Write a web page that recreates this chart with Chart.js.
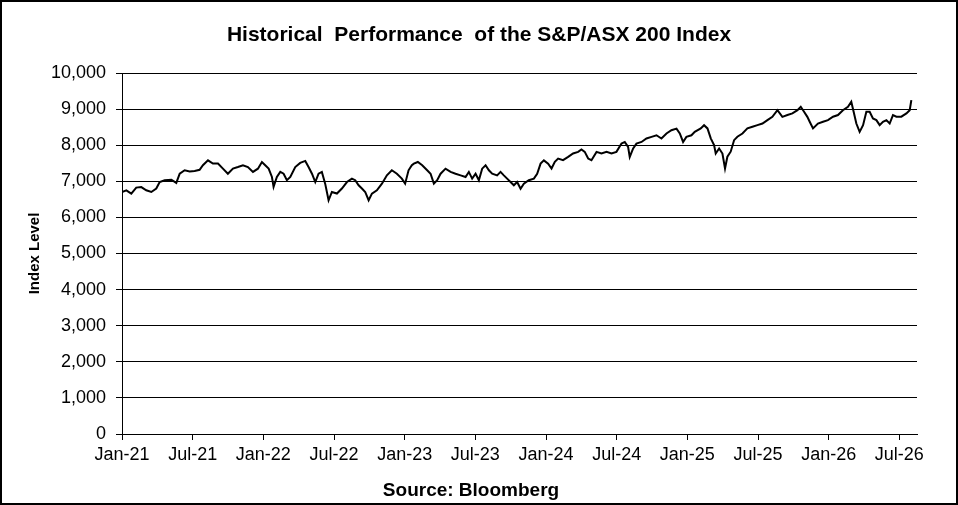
<!DOCTYPE html>
<html>
<head>
<meta charset="utf-8">
<title>S&amp;P/ASX 200 Index</title>
<script src="https://cdn.jsdelivr.net/npm/chart.js@4.4.1/dist/chart.umd.min.js"></script>
<style>
  html, body { margin: 0; padding: 0; background: #fff; }
  canvas { display: block; }
</style>
</head>
<body>
<canvas id="asxChart" width="958" height="505" style="width:958px;height:505px"></canvas>
<script>
// months since Jan-21
const months = [
  0.00, 0.37, 0.79, 1.21, 1.64, 2.06, 2.49, 2.91, 3.20, 3.62, 4.19, 4.61, 4.90, 5.32, 5.75, 6.17,
  6.59, 6.87, 7.30, 7.72, 8.15, 8.57, 8.99, 9.42, 9.84, 10.27, 10.69, 11.12, 11.54, 11.88, 12.16, 12.45,
  12.73, 12.87, 13.15, 13.44, 13.72, 14.00, 14.29, 14.71, 15.13, 15.56, 15.84, 16.13, 16.41, 16.69, 16.97, 17.25,
  17.54, 17.82, 18.25, 18.67, 19.10, 19.52, 19.80, 20.09, 20.37, 20.65, 20.94, 21.22, 21.64, 22.07, 22.49, 22.91,
  23.34, 23.76, 24.04, 24.33, 24.61, 24.78, 25.12, 25.49, 25.91, 26.20, 26.48, 26.76, 27.05, 27.47, 27.90, 28.32,
  28.75, 29.17, 29.45, 29.73, 30.02, 30.30, 30.58, 30.87, 31.15, 31.43, 31.85, 32.14, 32.42, 32.70, 32.99, 33.27,
  33.55, 33.84, 34.12, 34.54, 34.97, 35.25, 35.54, 35.82, 36.18, 36.47, 36.75, 37.03, 37.45, 37.88, 38.30, 38.73,
  39.01, 39.29, 39.58, 39.86, 40.29, 40.71, 41.14, 41.56, 41.98, 42.41, 42.69, 42.97, 43.11, 43.40, 43.68, 44.11,
  44.53, 44.96, 45.38, 45.80, 46.23, 46.65, 47.08, 47.36, 47.64, 47.92, 48.35, 48.63, 49.14, 49.42, 49.71, 49.99,
  50.27, 50.41, 50.70, 50.98, 51.20, 51.40, 51.68, 51.97, 52.25, 52.68, 53.10, 53.53, 53.95, 54.38, 54.80, 55.22,
  55.65, 56.07, 56.50, 56.92, 57.35, 57.63, 57.91, 58.19, 58.39, 58.67, 59.09, 59.52, 59.94, 60.37, 60.79, 61.21,
  61.64, 61.92, 62.12, 62.35, 62.63, 62.92, 63.20, 63.48, 63.76, 64.05, 64.33, 64.61, 64.90, 65.18, 65.46, 65.75,
  66.17, 66.60, 66.88, 67.02
];

const levels = [
  6705, 6750, 6660, 6825, 6840, 6750, 6705, 6800, 6980, 7030, 7045, 6955, 7210, 7305, 7275, 7285,
  7320, 7445, 7580, 7490, 7490, 7350, 7210, 7350, 7395, 7445, 7395, 7260, 7350, 7535, 7445, 7350,
  7120, 6845, 7120, 7260, 7210, 7030, 7120, 7395, 7510, 7565, 7395, 7210, 6980, 7210, 7260, 6935,
  6475, 6705, 6660, 6800, 6980, 7075, 7030, 6890, 6800, 6705, 6475, 6660, 6750, 6935, 7165, 7305,
  7210, 7075, 6935, 7305, 7445, 7490, 7535, 7445, 7305, 7210, 6935, 7030, 7210, 7350, 7260, 7210,
  7165, 7120, 7260, 7075, 7210, 7030, 7350, 7445, 7305, 7210, 7165, 7260, 7165, 7075, 6980, 6890,
  6980, 6795, 6935, 7030, 7075, 7210, 7490, 7580, 7490, 7355, 7540, 7630, 7585, 7675, 7770, 7815,
  7880, 7815, 7630, 7585, 7815, 7770, 7815, 7770, 7815, 8045, 8090, 7955, 7675, 7910, 8045, 8090,
  8185, 8230, 8275, 8185, 8325, 8415, 8460, 8325, 8090, 8230, 8275, 8370, 8465, 8555, 8465, 8190,
  8005, 7770, 7910, 7770, 7355, 7680, 7820, 8140, 8235, 8325, 8465, 8510, 8555, 8600, 8695, 8785,
  8970, 8785, 8835, 8880, 8970, 9065, 8925, 8785, 8650, 8465, 8600, 8650, 8695, 8790, 8835, 8970,
  9065, 9205, 8925, 8600, 8370, 8555, 8925, 8925, 8740, 8695, 8555, 8650, 8695, 8600, 8835, 8790,
  8790, 8880, 8970, 9250
];

const tickLabels = ['Jan-21', 'Jul-21', 'Jan-22', 'Jul-22', 'Jan-23', 'Jul-23',
  'Jan-24', 'Jul-24', 'Jan-25', 'Jul-25', 'Jan-26', 'Jul-26'];

const FONT = '"Liberation Sans", Arial, sans-serif';
Chart.defaults.font.family = FONT;
Chart.defaults.color = '#000';

// white background, outer frame, title and source line
const frame = {
  id: 'frame',
  beforeDraw(chart) {
    const c = chart.ctx;
    c.save();
    c.fillStyle = '#fff';
    c.fillRect(0, 0, chart.width, chart.height);
    c.restore();
  },
  afterDraw(chart) {
    const c = chart.ctx;
    c.save();
    c.strokeStyle = '#000';
    c.lineWidth = 2;
    c.strokeRect(1, 1, chart.width - 2, chart.height - 2);
    c.fillStyle = '#000';
    c.textAlign = 'center';
    c.textBaseline = 'middle';
    c.font = 'bold 21px ' + FONT;
    c.fillText('Historical  Performance  of the S&P/ASX 200 Index', 479, 35);
    c.font = 'bold 19px ' + FONT;
    c.fillText('Source: Bloomberg', 471, 491);
    c.restore();
  }
};

const ctx = document.getElementById('asxChart').getContext('2d');
const asxChart = new Chart(ctx, {
  type: 'line',
  data: {
    datasets: [{
      data: months.map((m, i) => ({ x: m, y: levels[i] })),
      borderColor: '#000',
      borderWidth: 2,
      pointRadius: 0,
      tension: 0,
      fill: false
    }]
  },
  options: {
    responsive: false,
    animation: false,
    devicePixelRatio: 1,
    layout: { padding: { top: 73, right: 41, bottom: 0, left: 0 } },
    plugins: {
      legend: { display: false },
      tooltip: { enabled: false },
      title: { display: false }
    },
    scales: {
      x: {
        type: 'linear',
        min: 0,
        max: 67.5,
        afterFit: s => { s.height = 71; },
        ticks: {
          stepSize: 6,
          includeBounds: false,
          autoSkip: false,
          maxRotation: 0,
          padding: 4,
          font: { size: 18 },
          callback: v => tickLabels[v / 6] ?? ''
        },
        grid: { drawOnChartArea: false, drawTicks: true, tickLength: 6, color: '#000' },
        border: { display: true, color: '#000', width: 1 }
      },
      y: {
        min: 0,
        max: 10000,
        afterFit: s => { s.width = 122; },
        ticks: {
          stepSize: 1000,
          padding: 10,
          font: { size: 18 },
          callback: v => v.toLocaleString('en-US')
        },
        grid: { color: '#000', lineWidth: 1, tickLength: 6 },
        border: { color: '#000', width: 1 },
        title: {
          display: true,
          text: 'Index Level',
          font: { size: 15, weight: 'bold' },
          padding: { top: 26, bottom: 0 }
        }
      }
    }
  },
  plugins: [frame]
});
</script>
</body>
</html>
